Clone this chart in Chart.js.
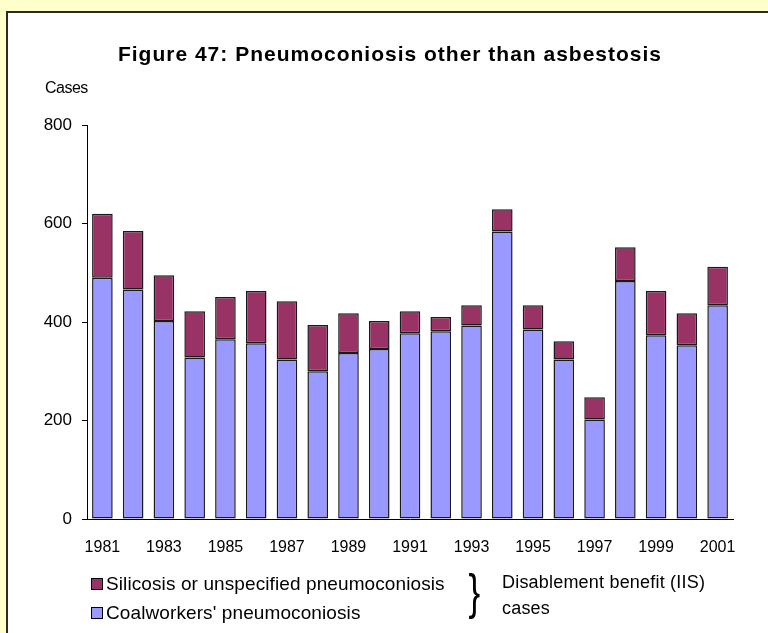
<!DOCTYPE html>
<html lang="en">
<head>
  <meta charset="UTF-8">
  <title>Pneumoconiosis other than asbestosis</title>
  <script src="https://cdn.jsdelivr.net/npm/chart.js"></script>
  <style>
    html, body {
      margin: 0;
      padding: 0;
      width: 768px;
      height: 633px;
      overflow: hidden;
      background: #ffffcc;
      font-family: 'Liberation Sans', Arial, sans-serif;
      color: #000;
    }
    .panel {
      position: absolute;
      left: 6px;
      top: 11px;
      width: 800px;
      height: 700px;
      background: #fff;
      border: 2px solid #2a2a2a;
    }
    #chart {
      position: absolute;
      left: 0;
      top: 0;
    }
    .title {
      position: absolute;
      left: 0;
      width: 780px;
      top: 42px;
      text-align: center;
      font-weight: bold;
      font-size: 21px;
      letter-spacing: 1px;
    }
    .units {
      position: absolute;
      left: 45px;
      top: 79px;
      font-size: 16px;
      letter-spacing: -0.5px;
    }
    .legend {
      position: absolute;
      font-size: 19px;
      left: 91px;
      top: 569px;
    }
    .legend div {
      height: 29px;
      display: flex;
      align-items: center;
      letter-spacing: 0.1px;
    }
    .legend span.box {
      display: inline-block;
      width: 10px;
      height: 10px;
      border: 1px solid #000;
      margin-right: 3px;
    }
    .brace {
      position: absolute;
      left: 466px;
      top: 563px;
      font-size: 50px;
      font-weight: 300;
      transform: scaleX(0.7);
    }
    .note {
      position: absolute;
      left: 502px;
      top: 569px;
      font-size: 18px;
      line-height: 26px;
      letter-spacing: 0.2px;
    }
  </style>
</head>
<body>
  <div class="panel"></div>
  <canvas id="chart" width="768" height="633"></canvas>
  <div class="title">Figure 47: Pneumoconiosis other than asbestosis</div>
  <div class="units">Cases</div>
  <div class="legend">
    <div><span class="box" style="background:#993366"></span>Silicosis or unspecified pneumoconiosis</div>
    <div><span class="box" style="background:#9999ff"></span>Coalworkers' pneumoconiosis</div>
  </div>
  <div class="brace">}</div>
  <div class="note">Disablement benefit (IIS)<br>cases</div>

  <script>
    const years = ['1981', '1982', '1983', '1984', '1985', '1986', '1987', '1988', '1989', '1990',
      '1991', '1992', '1993', '1994', '1995', '1996', '1997', '1998', '1999', '2000', '2001'];
    const coalworkers = [490, 466, 402, 328, 365, 357, 324, 300, 337, 345,
      377, 381, 393, 584, 385, 324, 202, 483, 373, 353, 434];
    const silicosis = [130, 119, 93, 94, 86, 106, 118, 94, 81, 57,
      45, 29, 41, 45, 49, 37, 45, 69, 90, 65, 78];
    const yTicks = [0, 200, 400, 600, 800];

    const ctx = document.getElementById('chart').getContext('2d');

    new Chart(ctx, {
      type: 'bar',
      data: {
        labels: years,
        datasets: [{
          label: "Coalworkers' pneumoconiosis",
          data: coalworkers,
          backgroundColor: '#9999ff',
          borderColor: '#1a1a1a',
          borderWidth: 1.5,
          borderSkipped: false,
          barPercentage: 0.67,
          categoryPercentage: 1
        }, {
          label: 'Silicosis or unspecified pneumoconiosis',
          data: silicosis,
          backgroundColor: '#993366',
          borderColor: '#1a1a1a',
          borderWidth: 1.5,
          borderSkipped: false,
          barPercentage: 0.67,
          categoryPercentage: 1
        }]
      },
      options: {
        responsive: false,
        animation: false,
        layout: { padding: { left: 0, top: 125, right: 35, bottom: 0 } },
        plugins: {
          legend: { display: false },
          tooltip: { enabled: false }
        },
        scales: {
          x: {
            stacked: true,
            grid: { display: false, drawTicks: false },
            border: { display: true, color: '#000', width: 1 },
            ticks: {
              color: '#000',
              font: { family: 'Liberation Sans', size: 16 },
              padding: 19,
              maxRotation: 0,
              autoSkip: false,
              callback: (v, i) => (i % 2 === 0 ? years[i] : '')
            },
            afterFit: (scale) => { scale.height = 114; }
          },
          y: {
            stacked: true,
            min: 0,
            max: 800,
            afterBuildTicks: (scale) => { scale.ticks = yTicks.map(v => ({ value: v })); },
            grid: { drawOnChartArea: false, drawTicks: true, tickLength: 5, color: '#000' },
            border: { display: true, color: '#000', width: 1 },
            ticks: {
              color: '#000',
              font: { family: 'Liberation Sans', size: 17 },
              padding: 10
            },
            afterFit: (scale) => { scale.width = 87; }
          }
        }
      }
    });
  </script>
</body>
</html>
